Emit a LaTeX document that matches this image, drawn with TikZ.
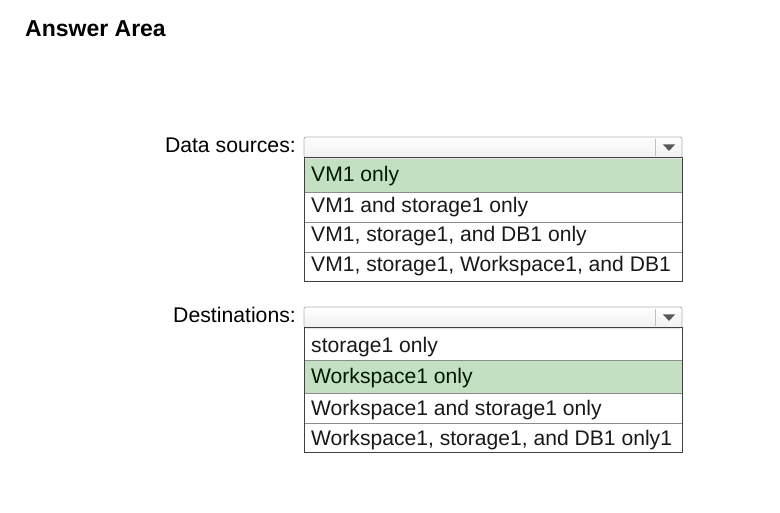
\documentclass[tikz,border=0pt]{standalone}
\usepackage{fontspec}
\setmainfont{Liberation Sans}
\begin{document}
\begin{tikzpicture}[x=1pt,y=-1pt,
  lbl/.style={font=\fontsize{21.2}{24}\selectfont, inner sep=0pt, anchor=base east},
  opt/.style={font=\fontsize{21.1}{24}\selectfont, inner sep=0pt, anchor=base west, text=black!90},
  sel/.style={fill=selgreen},
  sep/.style={draw=black!45, line width=0.8pt},
  listbox/.style={draw=black!75, line width=1pt},
  ddbox/.style={draw=black!30, line width=0.8pt, rounded corners=2pt, top color=white, bottom color=black!6}
]
\definecolor{selgreen}{HTML}{C3E0C3}
\useasboundingbox (0,0) rectangle (780,513);
\node[font=\bfseries\fontsize{23}{26}\selectfont, inner sep=0pt, anchor=base west] (title) at (25,37) {Answer Area};

% Data sources
\node[lbl] (l1) at (296,153) {Data sources:};
\draw[ddbox] (304,137) rectangle (682,158);
\draw[black!25] (655,139) -- (655,156);
\fill[black!65] (663,144.5) -- (675,144.5) -- (669,151) -- cycle;
\fill[sel] (304,159) rectangle (682,192);
\draw[sep] (304,192) -- (682,192);
\draw[sep] (304,222) -- (682,222);
\draw[sep] (304,252) -- (682,252);
\draw[listbox] (304,158) rectangle (682,282);
\node[opt, text=black!85!green!60!black] (a1) at (311,182) {VM1 only};
\node[opt] (a2) at (311,212.5) {VM1 and storage1 only};
\node[opt] (a3) at (311,242) {VM1, storage1, and DB1 only};
\node[opt] (a4) at (311,272) {VM1, storage1, Workspace1, and DB1};

% Destinations
\node[lbl] (l2) at (296,323) {Destinations:};
\draw[ddbox] (304,307) rectangle (682,328);
\draw[black!25] (655,309) -- (655,326);
\fill[black!65] (663,314.5) -- (675,314.5) -- (669,321) -- cycle;
\fill[sel] (304,360) rectangle (682,393);
\draw[sep] (304,360) -- (682,360);
\draw[sep] (304,393) -- (682,393);
\draw[sep] (304,423) -- (682,423);
\draw[listbox] (304,328) rectangle (682,452);
\node[opt] (b1) at (311,353) {storage1 only};
\node[opt, text=black!85!green!60!black] (b2) at (311,384) {Workspace1 only};
\node[opt] (b3) at (311,415) {Workspace1 and storage1 only};
\node[opt] (b4) at (311,445) {Workspace1, storage1, and DB1 only1};
\end{tikzpicture}
\end{document}
